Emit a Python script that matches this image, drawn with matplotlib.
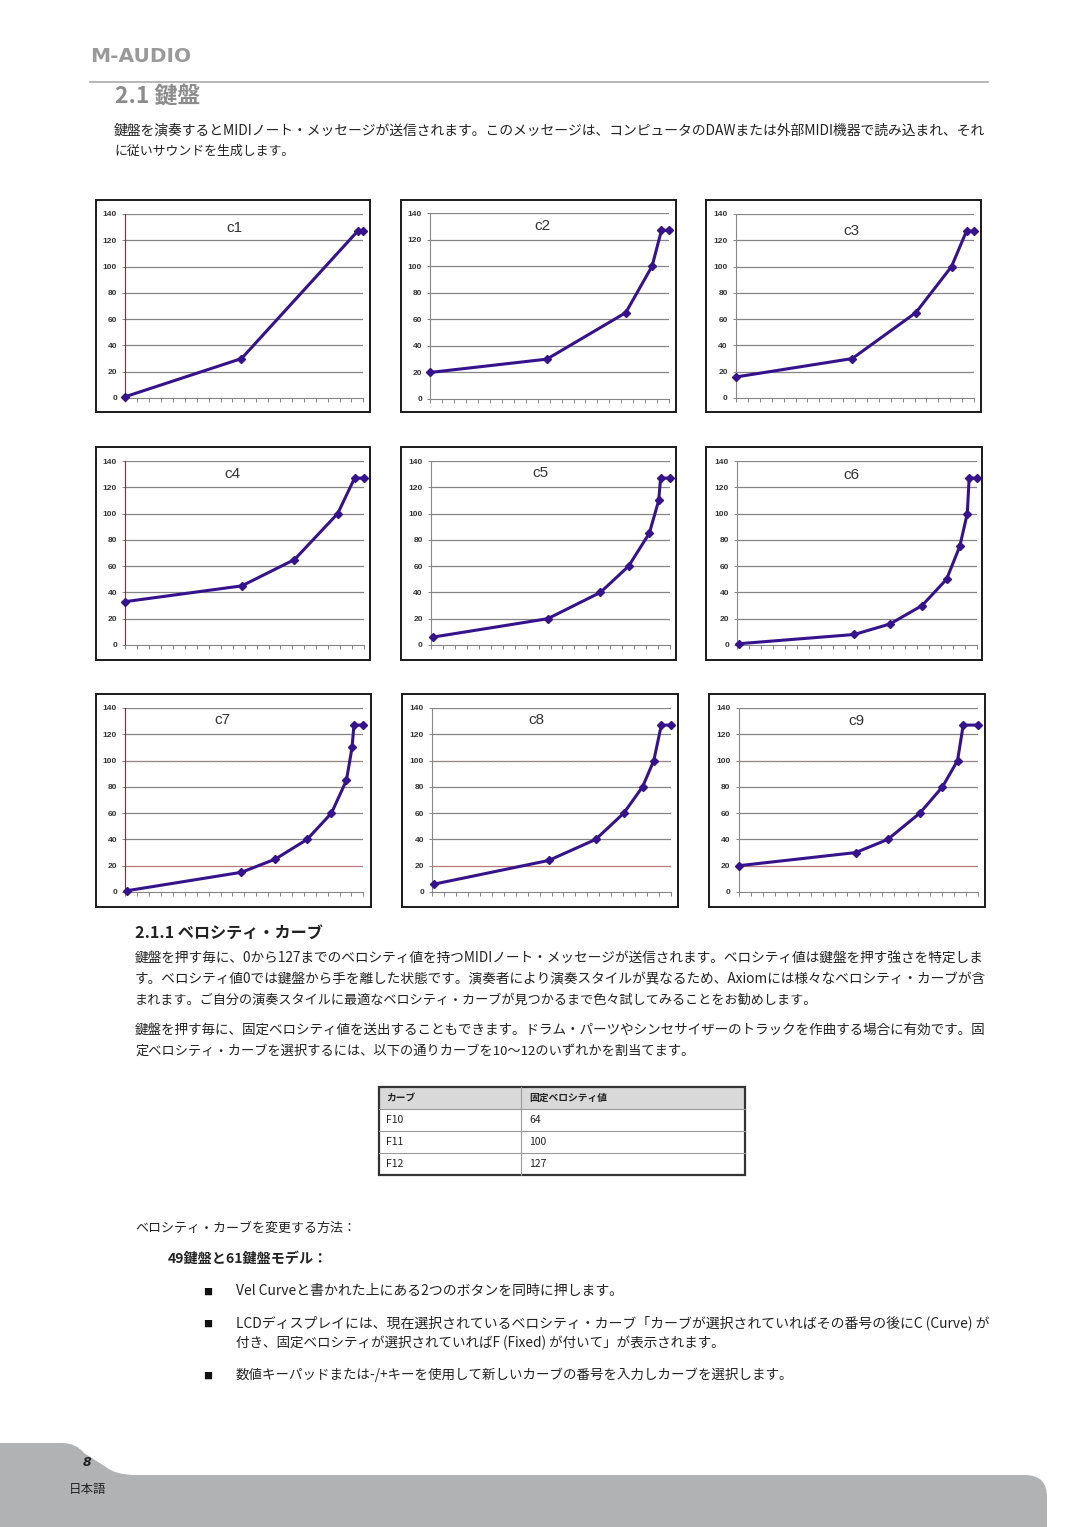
import numpy as np
import matplotlib
matplotlib.use('Agg')
import matplotlib.pyplot as plt
from matplotlib.patches import Rectangle, PathPatch
from matplotlib.path import Path

plt.rcParams['font.family'] = ['Noto Sans CJK JP', 'DejaVu Sans']

# ---------------- data ----------------
curve_names = ['c1', 'c2', 'c3', 'c4', 'c5', 'c6', 'c7', 'c8', 'c9']
c1_in = [0, 62, 124, 127]
c1_out = [1, 30, 127, 127]
c2_in = [0, 62, 104, 118, 123, 127]
c2_out = [20, 30, 65, 100, 127, 127]
c3_in = [0, 62, 96, 115, 123, 127]
c3_out = [16, 30, 65, 100, 127, 127]
c4_in = [0, 62, 90, 113, 122, 127]
c4_out = [33, 45, 65, 100, 127, 127]
c5_in = [1, 62, 90, 105, 116, 121, 122, 127]
c5_out = [6, 20, 40, 60, 85, 110, 127, 127]
c6_in = [1, 62, 81, 98, 111, 118, 122, 123, 127]
c6_out = [1, 8, 16, 30, 50, 75, 100, 127, 127]
c7_in = [1, 62, 80, 97, 110, 118, 121, 122, 127]
c7_out = [1, 15, 25, 40, 60, 85, 110, 127, 127]
c8_in = [1, 62, 87, 102, 112, 118, 122, 127]
c8_out = [6, 24, 40, 60, 80, 100, 127, 127]
c9_in = [0, 62, 79, 96, 108, 116, 119, 127]
c9_out = [20, 30, 40, 60, 80, 100, 127, 127]
y_ticks = [0, 20, 40, 60, 80, 100, 120, 140]

table_header = ['カーブ', '固定ベロシティ値']
table_curves = ['F10', 'F11', 'F12']
table_values = ['64', '100', '127']

curves_in = [c1_in, c2_in, c3_in, c4_in, c5_in, c6_in, c7_in, c8_in, c9_in]
curves_out = [c1_out, c2_out, c3_out, c4_out, c5_out, c6_out, c7_out, c8_out, c9_out]

# ---------------- layout (pixels) ----------------
W, H = 1080, 1527
fig = plt.figure(figsize=(W / 100, H / 100), dpi=100)
page = fig.add_axes([0, 0, 1, 1], zorder=0)
page.set_xlim(0, W)
page.set_ylim(H, 0)
page.axis('off')

frames = [(96, 200, 370, 412), (401, 200, 676, 412), (706, 200, 981, 412),
          (96, 447, 370, 660), (401, 447, 676, 660), (706, 447, 982, 660),
          (96, 694, 371, 907), (402, 694, 678, 907), (709, 694, 985, 907)]
plots = [(125.3, 363.3, 214, 398), (430.3, 669, 213, 399), (736, 974, 214, 398),
         (125.3, 364, 461, 645), (431, 670, 461, 645), (737.3, 976.7, 461, 645),
         (125.3, 363.3, 708, 892), (432.3, 670.7, 708, 892), (738.7, 978.3, 708, 892)]
title_pos = [(234, 228), (542, 226), (851, 231), (232, 474), (540, 473), (851, 475),
             (222, 720), (536, 720), (856, 721)]
red_axis = [True, False, False, True, False, False, True, False, False]
red_lines = [False] * 6 + [True] * 3

line_color = '#36138c'
grid_color = '#858585'

for i in range(9):
    fx0, fy0, fx1, fy1 = frames[i]
    page.add_patch(Rectangle((fx0, fy0), fx1 - fx0, fy1 - fy0, facecolor='white',
                             edgecolor='#1a1a1a', lw=1.4, zorder=1))
    xl, xr, yt, yb = plots[i]
    ax = fig.add_axes([xl / W, 1 - yb / H, (xr - xl) / W, (yb - yt) / H], zorder=2)
    ax.patch.set_alpha(0)
    ax.set_xlim(0, 127)
    ax.set_ylim(0, 140)
    for s in ['top', 'right']:
        ax.spines[s].set_visible(False)
    ax.spines['left'].set_color('#8b2a2a' if red_axis[i] else '#888888')
    ax.spines['left'].set_linewidth(0.8)
    ax.spines['bottom'].set_color(grid_color)
    ax.spines['bottom'].set_linewidth(0.8)
    for yv in y_ticks[1:]:
        if red_lines[i] and yv == 20:
            ax.axhline(yv, color='#b87a7a', lw=0.9, zorder=1)
        elif red_lines[i] and yv == 100:
            ax.axhline(yv, color=grid_color, lw=0.9, zorder=1)
            ax.axhline(yv, color='#c88a8a', lw=0.9, ls=(0, (1, 3)), zorder=1)
        else:
            ax.axhline(yv, color=grid_color, lw=0.9, zorder=1)
    ax.set_xticks(np.linspace(0, 127, 21))
    ax.set_xticklabels([])
    ax.tick_params(axis='x', direction='out', length=3, width=0.7, color=grid_color)
    ax.set_yticks(y_ticks)
    ax.set_yticklabels([str(v) for v in y_ticks], fontsize=6, fontweight='bold',
                       family=['Liberation Sans', 'DejaVu Sans'], color='#333333')
    ax.tick_params(axis='y', direction='out', length=2, width=0.7, color=grid_color, pad=4)
    ax.plot(curves_in[i], curves_out[i], color=line_color, lw=2.2, marker='D', ms=4.5,
            clip_on=False, zorder=5)
    tx, ty = title_pos[i]
    page.text(tx, ty, curve_names[i], fontsize=11, ha='center', va='center',
              family=['Liberation Sans', 'DejaVu Sans'], color='#333333', zorder=3)

# ---------------- page furniture ----------------
fig.canvas.draw()
renderer = fig.canvas.get_renderer()


def fit(x, y, s, right, size=9.5, **kw):
    t = page.text(x, y, s, fontsize=size, va='center', ha='left', **kw)
    for _ in range(3):
        w = t.get_window_extent(renderer).width
        if w > 0:
            t.set_fontsize(t.get_fontsize() * (right - x) / w)
    return t


page.text(90, 57, 'M-AUDIO', fontsize=14.5, fontweight='bold', color='#9a9a9a',
          va='center', ha='left', family=['DejaVu Sans'])
page.plot([90, 988], [82, 82], color='#aaaaaa', lw=1.2)
fit(115, 97, '2.1 鍵盤', 200, 13, fontweight='bold', color='#8c8c8c')

body = '#222222'
fit(114, 130, '鍵盤を演奏するとMIDIノート・メッセージが送信されます。このメッセージは、コンピュータのDAWまたは外部MIDI機器で読み込まれ、それ', 987, color=body)
fit(114, 151, 'に従いサウンドを生成します。', 296, color=body)

fit(135, 933, '2.1.1 ベロシティ・カーブ', 323, 10, fontweight='bold', color='#222222')
fit(135, 959, '鍵盤を押す毎に、0から127までのベロシティ値を持つMIDIノート・メッセージが送信されます。ベロシティ値は鍵盤を押す強さを特定しま', 988, color=body)
fit(135, 980, 'す。ベロシティ値0では鍵盤から手を離した状態です。演奏者により演奏スタイルが異なるため、Axiomには様々なベロシティ・カーブが含', 988, color=body)
fit(135, 1000, 'まれます。ご自分の演奏スタイルに最適なベロシティ・カーブが見つかるまで色々試してみることをお勧めします。', 821, color=body)
fit(135, 1031, '鍵盤を押す毎に、固定ベロシティ値を送出することもできます。ドラム・パーツやシンセサイザーのトラックを作曲する場合に有効です。固', 988, color=body)
fit(135, 1051, '定ベロシティ・カーブを選択するには、以下の通りカーブを10～12のいずれかを割当てます。', 693, color=body)

# table
tx0, tx1, tcol = 379, 745, 521
row_edges = [1087, 1109, 1131, 1153, 1175]
page.add_patch(Rectangle((tx0, row_edges[0]), tx1 - tx0, row_edges[1] - row_edges[0],
                         facecolor='#d9d9d9', edgecolor='none'))
for yy in row_edges[1:-1]:
    page.plot([tx0, tx1], [yy, yy], color='#9a9a9a', lw=0.8)
page.plot([tcol, tcol], [row_edges[0], row_edges[-1]], color='#9a9a9a', lw=0.8)
page.add_patch(Rectangle((tx0, row_edges[0]), tx1 - tx0, row_edges[-1] - row_edges[0],
                         facecolor='none', edgecolor='#333333', lw=1.6))
page.text(386, 1098, table_header[0], fontsize=7, fontweight='bold', va='center', color='#222')
page.text(529, 1098, table_header[1], fontsize=7, fontweight='bold', va='center', color='#222')
for k in range(3):
    yc = (row_edges[k + 1] + row_edges[k + 2]) / 2
    page.text(386, yc, table_curves[k], fontsize=7.5, va='center', color='#222')
    page.text(529, yc, table_values[k], fontsize=7.5, va='center', color='#222')

fit(135, 1228, 'ベロシティ・カーブを変更する方法：', 355, color=body)
fit(168, 1259, '49鍵盤と61鍵盤モデル：', 328, fontweight='bold', color=body)

for yb_ in [1292, 1324, 1376]:
    page.text(208, yb_, '■', fontsize=6.5, ha='center', va='center', color='#111')
fit(236, 1291, 'Vel Curveと書かれた上にある2つのボタンを同時に押します。', 622, color=body)
fit(236, 1323, 'LCDディスプレイには、現在選択されているベロシティ・カーブ「カーブが選択されていればその番号の後にC (Curve) が', 988, color=body)
fit(236, 1343, '付き、固定ベロシティが選択されていればF (Fixed) が付いて」が表示されます。', 727, color=body)
fit(236, 1375, '数値キーパッドまたは-/+キーを使用して新しいカーブの番号を入力しカーブを選択します。', 792, color=body)

# footer
verts = [(0, 1527), (0, 1443), (62, 1443), (76, 1443), (84, 1453), (106, 1467),
         (116, 1475), (135, 1475), (1025, 1475), (1047, 1475), (1047, 1497),
         (1047, 1527), (0, 1527)]
codes = [Path.MOVETO, Path.LINETO, Path.LINETO, Path.CURVE3, Path.CURVE3, Path.LINETO,
         Path.CURVE3, Path.CURVE3, Path.LINETO, Path.CURVE3, Path.CURVE3, Path.LINETO,
         Path.CLOSEPOLY]
page.add_patch(PathPatch(Path(verts, codes), facecolor='#b1b2b4', edgecolor='none', zorder=0))
page.text(87, 1462, '8', fontsize=9, fontweight='bold', fontstyle='italic', ha='center',
          va='center', color='#222', family=['DejaVu Sans'])
page.text(88, 1489, '日本語', fontsize=9, ha='center', va='center', color='#222')

fig.savefig('out.png', dpi=100)
